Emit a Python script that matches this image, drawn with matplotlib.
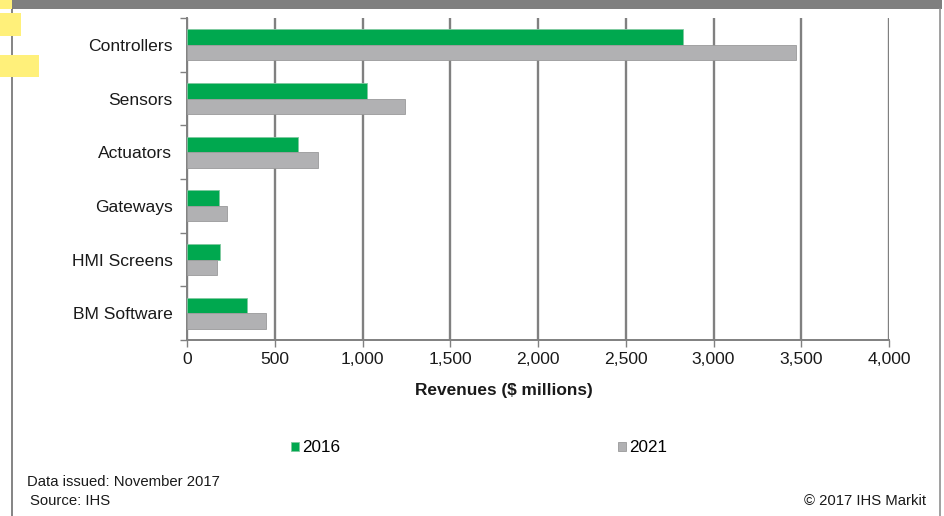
import matplotlib
matplotlib.use("Agg")
import matplotlib.pyplot as plt
from matplotlib.patches import Rectangle
import numpy as np

plt.rcParams['font.family'] = ['Liberation Sans', 'DejaVu Sans']

categories = ["Controllers", "Sensors", "Actuators", "Gateways", "HMI Screens", "BM Software"]
values_2016 = [2826, 1026, 632, 182, 188, 344]
values_2021 = [3470, 1242, 746, 228, 169, 448]
series_names = ["2016", "2021"]
xticks = [0, 500, 1000, 1500, 2000, 2500, 3000, 3500, 4000]
xtick_labels = ["0", "500", "1,000", "1,500", "2,000", "2,500", "3,000", "3,500", "4,000"]

W, H = 944, 516
fig = plt.figure(figsize=(W / 100, H / 100), dpi=100)

def fx(px):
    return px / W

def fy(py):
    return 1 - py / H

# decorations: top band, frame lines, highlights
fig.patches.append(Rectangle((fx(12), fy(9)), fx(942) - fx(12), 9 / H, transform=fig.transFigure,
                             facecolor="#7f7f7f", edgecolor="none", zorder=0))
fig.add_artist(plt.Line2D([fx(12), fx(12)], [fy(9), 0], transform=fig.transFigure, color="#707070", lw=1.2))
fig.add_artist(plt.Line2D([fx(940), fx(940)], [fy(9), 0], transform=fig.transFigure, color="#909090", lw=1.2))
for (x0, y0, x1, y1) in [(0, 0, 12, 9), (0, 13, 21, 36), (0, 55, 39, 77)]:
    fig.patches.append(Rectangle((fx(x0), fy(y1)), (x1 - x0) / W, (y1 - y0) / H, transform=fig.transFigure,
                                 facecolor="#fff07a", edgecolor="none", zorder=5))

ax = fig.add_axes([fx(187), fy(340), fx(889) - fx(187), (340 - 18) / H])

n = len(categories)
y = np.arange(n)
bh = 0.29
green = "#00a84f"
gray = "#b1b1b3"
ax.barh(y - bh / 2, values_2016, height=bh, color=green, edgecolor="#7fc99f", linewidth=0.6, label=series_names[0], zorder=3)
ax.barh(y + bh / 2, values_2021, height=bh, color=gray, edgecolor="#9a9a9a", linewidth=0.6, label=series_names[1], zorder=3)

ax.set_ylim(n - 0.5, -0.5)
ax.set_xlim(0, 4000)
ax.set_yticks(y)
ax.set_yticklabels(categories, fontsize=12.6, color="#1a1a1a")
ax.set_yticks(np.arange(-0.5, n, 1), minor=True)
ax.tick_params(axis='y', which='major', length=0, pad=10.5)
ax.tick_params(axis='y', which='minor', length=5, color="#808080", width=1)
ax.set_xticks(xticks)
ax.set_xticklabels(xtick_labels, fontsize=12.6, color="#1a1a1a")
ax.tick_params(axis='x', length=5, color="#808080", width=1, pad=4)

ax.grid(axis='x', color="#808080", linewidth=1.7, zorder=0)
for s in ["top", "right"]:
    ax.spines[s].set_visible(False)
for s in ["left", "bottom"]:
    ax.spines[s].set_color("#808080")
    ax.spines[s].set_linewidth(1.4)

fig.text(fx(504), fy(390), "Revenues ($ millions)", fontsize=12.4, fontweight="bold",
         ha="center", va="center", color="#1a1a1a")

# legend
handles, labels = ax.get_legend_handles_labels()
for h, lab, px in [(handles[0], labels[0], 291), (handles[1], labels[1], 618)]:
    fig.legend([h], [lab], loc="center left", bbox_to_anchor=(fx(px), fy(448)),
               frameon=False, fontsize=12.3, handlelength=0.47, handleheight=0.47,
               handletextpad=0.2, borderpad=0, borderaxespad=0)

fig.text(fx(27), fy(482), "Data issued: November 2017", fontsize=10.7, va="center", ha="left", color="#1a1a1a")
fig.text(fx(30), fy(501), "Source: IHS", fontsize=10.7, va="center", ha="left", color="#1a1a1a")
fig.text(fx(926), fy(501), "\u00a9 2017 IHS Markit", fontsize=10.7, va="center", ha="right", color="#1a1a1a")

fig.savefig("out.png", dpi=100)
